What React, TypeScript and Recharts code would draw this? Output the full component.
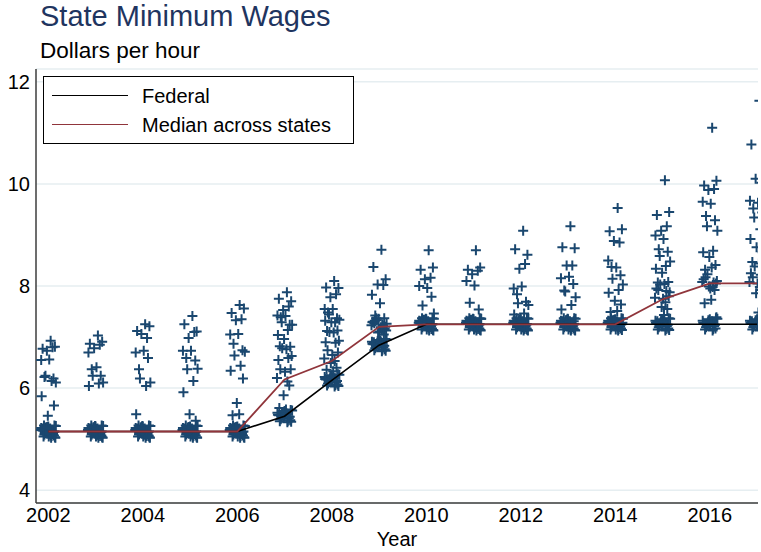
import { CartesianGrid, Scatter, ScatterChart, XAxis, YAxis } from 'recharts';

const years = [2002, 2003, 2004, 2005, 2006, 2007, 2008, 2009, 2010, 2011, 2012, 2013, 2014, 2015, 2016, 2017];

const federal = [5.15, 5.15, 5.15, 5.15, 5.15, 5.45, 6.15, 6.84, 7.25, 7.25, 7.25, 7.25, 7.25, 7.25, 7.25, 7.25];
const median = [5.15, 5.15, 5.15, 5.15, 5.15, 6.17, 6.53, 7.2, 7.25, 7.25, 7.25, 7.25, 7.25, 7.74, 8.05, 8.05];

// state minimum wages, one entry per state (50 + DC)
const w2002 = [
  6.9, 6.85, 6.75, 6.75, 6.7, 6.6, 6.55, 6.3, 6.15, 6.15, 6.15, 6.15, 5.8, 5.75, 5.35,
  5.15, 5.15, 5.15, 5.15, 5.15, 5.15, 5.15, 5.15, 5.15, 5.15, 5.15, 5.15,
  5.15, 5.15, 5.15, 5.15, 5.15, 5.15, 5.15, 5.15, 5.15, 5.15, 5.15, 5.15,
  5.15, 5.15, 5.15, 5.15, 5.15, 5.15, 5.15, 5.15, 5.15, 5.15, 5.15, 5.15,
];
const w2003 = [
  7.0, 6.95, 6.85, 6.8, 6.75, 6.75, 6.4, 6.35, 6.3, 6.15, 6.15, 6.1, 6.0,
  5.15, 5.15, 5.15, 5.15, 5.15, 5.15, 5.15, 5.15, 5.15, 5.15, 5.15, 5.15,
  5.15, 5.15, 5.15, 5.15, 5.15, 5.15, 5.15, 5.15, 5.15, 5.15, 5.15, 5.15,
  5.15, 5.15, 5.15, 5.15, 5.15, 5.15, 5.15, 5.15, 5.15, 5.15, 5.15, 5.15,
  5.15, 5.15,
];
const w2004 = [
  7.22, 7.2, 7.15, 7.08, 6.88, 6.75, 6.72, 6.7, 6.3, 6.15, 6.1, 6.05, 5.45,
  5.15, 5.15, 5.15, 5.15, 5.15, 5.15, 5.15, 5.15, 5.15, 5.15, 5.15, 5.15,
  5.15, 5.15, 5.15, 5.15, 5.15, 5.15, 5.15, 5.15, 5.15, 5.15, 5.15, 5.15,
  5.15, 5.15, 5.15, 5.15, 5.15, 5.15, 5.15, 5.15, 5.15, 5.15, 5.15, 5.15,
  5.15, 5.15,
];
const w2005 = [
  7.38, 7.33, 7.05, 7.0, 7.0, 6.78, 6.72, 6.65, 6.52, 6.42, 6.28, 6.15, 5.88, 5.45, 5.38,
  5.15, 5.15, 5.15, 5.15, 5.15, 5.15, 5.15, 5.15, 5.15, 5.15, 5.15, 5.15,
  5.15, 5.15, 5.15, 5.15, 5.15, 5.15, 5.15, 5.15, 5.15, 5.15, 5.15, 5.15,
  5.15, 5.15, 5.15, 5.15, 5.15, 5.15, 5.15, 5.15, 5.15, 5.15, 5.15, 5.15,
];
const w2006 = [
  7.6, 7.55, 7.5, 7.35, 7.25, 7.1, 7.05, 6.85, 6.8, 6.75, 6.55, 6.45, 6.3, 6.28, 5.6, 5.55, 5.45,
  5.15, 5.15, 5.15, 5.15, 5.15, 5.15, 5.15, 5.15, 5.15, 5.15, 5.15, 5.15,
  5.15, 5.15, 5.15, 5.15, 5.15, 5.15, 5.15, 5.15, 5.15, 5.15, 5.15, 5.15,
  5.15, 5.15, 5.15, 5.15, 5.15, 5.15, 5.15, 5.15, 5.15, 5.15,
];
const w2007 = [
  7.85, 7.83, 7.64, 7.55, 7.5, 7.47, 7.4, 7.35, 7.32, 7.28,
  7.2, 7.15, 7.0, 6.9, 6.85, 6.82, 6.8, 6.75, 6.7, 6.62,
  6.5, 6.42, 6.37, 6.25, 6.2, 6.17, 6.1, 5.77, 5.6, 5.55,
  5.45, 5.45, 5.45, 5.45, 5.45, 5.45, 5.45, 5.45, 5.45, 5.45, 5.45,
  5.45, 5.45, 5.45, 5.45, 5.45, 5.45, 5.45, 5.45, 5.45, 5.45,
];
const w2008 = [
  8.07, 8.05, 7.9, 7.8, 7.74, 7.6, 7.54, 7.48, 7.41, 7.38,
  7.35, 7.3, 7.28, 7.22, 7.18, 7.15, 7.1, 7.05, 7.02, 6.92,
  6.85, 6.75, 6.7, 6.62, 6.6, 6.55, 6.45, 6.4, 6.35, 6.3,
  6.15, 6.15, 6.15, 6.15, 6.15, 6.15, 6.15, 6.15, 6.15, 6.15, 6.15,
  6.15, 6.15, 6.15, 6.15, 6.15, 6.15, 6.15, 6.15, 6.15, 6.15,
];
const w2009 = [
  8.68, 8.45, 8.07, 8.05, 7.92, 7.88, 7.65, 7.48, 7.35, 7.3, 7.28,
  7.25, 7.25, 7.25, 7.25, 7.25, 7.25, 7.25, 7.25, 7.25, 7.25,
  7.21, 7.2, 7.2, 7.2, 7.2, 7.1, 7.0, 6.95,
  6.84, 6.84, 6.84, 6.84, 6.84, 6.84, 6.84, 6.84, 6.84, 6.84, 6.84,
  6.84, 6.84, 6.84, 6.84, 6.84, 6.84, 6.84, 6.84, 6.84, 6.84, 6.84,
];
const w2010 = [
  8.67, 8.4, 8.3, 8.15, 8.06, 8.05, 7.95, 7.9, 7.55, 7.5,
  7.25, 7.25, 7.25, 7.25, 7.25, 7.25, 7.25, 7.25, 7.25, 7.25, 7.25,
  7.25, 7.25, 7.25, 7.25, 7.25, 7.25, 7.25, 7.25, 7.25, 7.25, 7.25,
  7.25, 7.25, 7.25, 7.25, 7.25, 7.25, 7.25, 7.25, 7.25, 7.25, 7.25,
  7.25, 7.25, 7.25, 7.25, 7.25, 7.25, 7.25, 7.25,
];
const w2011 = [
  8.67, 8.4, 8.3, 8.25, 8.2, 8.15, 8.0, 7.65, 7.6, 7.4,
  7.25, 7.25, 7.25, 7.25, 7.25, 7.25, 7.25, 7.25, 7.25, 7.25, 7.25,
  7.25, 7.25, 7.25, 7.25, 7.25, 7.25, 7.25, 7.25, 7.25, 7.25, 7.25,
  7.25, 7.25, 7.25, 7.25, 7.25, 7.25, 7.25, 7.25, 7.25, 7.25, 7.25,
  7.25, 7.25, 7.25, 7.25, 7.25, 7.25, 7.25, 7.25,
];
const w2012 = [
  9.05, 8.8, 8.55, 8.36, 8.33, 8.0, 7.98, 7.8, 7.77, 7.67, 7.57, 7.47, 7.4,
  7.25, 7.25, 7.25, 7.25, 7.25, 7.25, 7.25, 7.25, 7.25, 7.25, 7.25,
  7.25, 7.25, 7.25, 7.25, 7.25, 7.25, 7.25, 7.25, 7.25, 7.25, 7.25,
  7.25, 7.25, 7.25, 7.25, 7.25, 7.25, 7.25, 7.25, 7.25, 7.25, 7.25,
  7.25, 7.25, 7.25, 7.25, 7.25,
];
const w2013 = [
  9.14, 8.84, 8.68, 8.42, 8.3, 8.2, 8.17, 8.15, 7.84, 7.82, 7.8, 7.64, 7.5, 7.4,
  7.25, 7.25, 7.25, 7.25, 7.25, 7.25, 7.25, 7.25, 7.25, 7.25, 7.25,
  7.25, 7.25, 7.25, 7.25, 7.25, 7.25, 7.25, 7.25, 7.25, 7.25, 7.25,
  7.25, 7.25, 7.25, 7.25, 7.25, 7.25, 7.25, 7.25, 7.25, 7.25, 7.25,
  7.25, 7.25, 7.25, 7.25,
];
const w2014 = [
  9.5, 9.15, 9.05, 8.9, 8.75, 8.55, 8.35, 8.32, 8.3, 8.07, 8.05, 7.93, 7.83, 7.73, 7.6, 7.57, 7.47, 7.4,
  7.25, 7.25, 7.25, 7.25, 7.25, 7.25, 7.25, 7.25, 7.25, 7.25, 7.25,
  7.25, 7.25, 7.25, 7.25, 7.25, 7.25, 7.25, 7.25, 7.25, 7.25, 7.25,
  7.25, 7.25, 7.25, 7.25, 7.25, 7.25, 7.25, 7.25, 7.25, 7.25, 7.25,
];
const w2015 = [
  10.04, 9.47, 9.39, 9.1, 9.07, 9.04, 8.91, 8.78, 8.65, 8.52,
  8.5, 8.4, 8.3, 8.17, 8.15, 8.1, 8.05, 8.0, 7.95, 7.93,
  7.9, 7.85, 7.8, 7.8, 7.75, 7.74, 7.6, 7.5, 7.45,
  7.25, 7.25, 7.25, 7.25, 7.25, 7.25, 7.25, 7.25, 7.25, 7.25, 7.25,
  7.25, 7.25, 7.25, 7.25, 7.25, 7.25, 7.25, 7.25, 7.25, 7.25, 7.25,
];
const w2016 = [
  11.07, 10.05, 10.0, 9.9, 9.8, 9.7, 9.6, 9.4, 9.3, 9.12,
  9.08, 8.7, 8.62, 8.5, 8.46, 8.42, 8.3, 8.22, 8.15, 8.1,
  8.08, 8.05, 8.05, 8.05, 8.05, 8.05, 7.97, 7.9, 7.75, 7.6, 7.5,
  7.25, 7.25, 7.25, 7.25, 7.25, 7.25, 7.25, 7.25, 7.25, 7.25,
  7.25, 7.25, 7.25, 7.25, 7.25, 7.25, 7.25, 7.25, 7.25, 7.25,
];
const w2017 = [
  11.6, 10.85, 10.15, 10.12, 9.92, 9.72, 9.62, 9.55, 9.45, 9.35,
  9.25, 9.12, 8.88, 8.75, 8.65, 8.5, 8.45, 8.35, 8.3, 8.25,
  8.2, 8.15, 8.1, 8.05, 8.05, 8.05, 7.97, 7.77, 7.5,
  7.25, 7.25, 7.25, 7.25, 7.25, 7.25, 7.25, 7.25, 7.25, 7.25, 7.25,
  7.25, 7.25, 7.25, 7.25, 7.25, 7.25, 7.25, 7.25, 7.25, 7.25, 7.25,
];

const stateWages = [w2002, w2003, w2004, w2005, w2006, w2007, w2008, w2009, w2010, w2011, w2012, w2013, w2014, w2015, w2016, w2017];

// jitter offsets (years, dollars) so overlapping states stay visible
const jitterX = [
  0.05, -0.12, 0.14, -0.03, 0.09, -0.15, 0.02, 0.11, -0.08, 0.16, -0.06, 0.07, -0.14, 0.12, -0.01, 0.04, -0.1,
  0.15, -0.05, 0.08, -0.13, 0.01, 0.13, -0.09, 0.06, -0.16, 0.1, -0.02, 0.03, -0.11, 0.14, -0.07, 0.0, 0.12,
  -0.04, 0.09, -0.15, 0.06, -0.12, 0.16, -0.08, 0.02, 0.11, -0.03, 0.07, -0.14, 0.13, -0.06, 0.04, -0.1, 0.08,
];
const jitterY = [
  0.03, -0.08, 0.06, -0.02, 0.1, -0.05, 0.01, -0.11, 0.07, -0.04, 0.09, -0.01, 0.04, -0.09, 0.11, -0.06, 0.02,
  -0.12, 0.08, -0.03, 0.05, -0.1, 0.0, 0.12, -0.07, 0.03, -0.05, 0.09, -0.02, 0.06, -0.11, 0.01, 0.1, -0.08,
  0.04, -0.04, 0.07, -0.12, 0.02, 0.11, -0.06, 0.05, -0.01, 0.08, -0.09, 0.03, 0.12, -0.03, 0.06, -0.1, 0.0,
];

const xTicks = [2002, 2004, 2006, 2008, 2010, 2012, 2014, 2016];
const yTicks = [4, 6, 8, 10, 12];

const NAVY = '#1a476f';
const MAROON = '#90353b';
const FONT = '"Liberation Sans", Arial, sans-serif';

const statePoints = years.flatMap((year, yi) =>
  stateWages[yi].map((w, i) => ({ x: year + jitterX[i], y: w + jitterY[i] })),
);
const federalLine = years.map((year, i) => ({ x: year, y: federal[i] }));
const medianLine = years.map((year, i) => ({ x: year, y: median[i] }));

const PlusMark = (props: any) => {
  const { cx, cy } = props;
  if (cx == null || cy == null) return <g />;
  return <path d={`M${cx - 5},${cy}H${cx + 5}M${cx},${cy - 5}V${cy + 5}`} stroke={NAVY} strokeWidth={2} fill="none" />;
};

const NoMark = () => <g />;

const LegendBox = () => (
  <div
    style={{
      position: 'absolute',
      left: 43,
      top: 76,
      width: 311,
      height: 68,
      boxSizing: 'border-box',
      border: '1px solid #000',
      background: '#fff',
      fontFamily: FONT,
      fontSize: 20,
      color: '#000',
      paddingTop: 4,
    }}
  >
    {[
      { label: 'Federal', color: '#000' },
      { label: 'Median across states', color: MAROON },
    ].map((item) => (
      <div key={item.label} style={{ display: 'flex', alignItems: 'center', height: 29 }}>
        <div style={{ marginLeft: 8, width: 76, height: 0, borderTop: `1.6px solid ${item.color}` }} />
        <span style={{ marginLeft: 14, lineHeight: 1 }}>{item.label}</span>
      </div>
    ))}
  </div>
);

const App = () => (
  <div style={{ position: 'absolute', left: 0, top: 0, width: 761, height: 552, background: '#fff', fontFamily: FONT }}>
    <div style={{ position: 'absolute', left: 40, top: 2, fontSize: 29, lineHeight: 1, color: '#1f3560', whiteSpace: 'nowrap' }}>
      State Minimum Wages
    </div>
    <div style={{ position: 'absolute', left: 40, top: 40, fontSize: 22.5, lineHeight: 1, color: '#000', whiteSpace: 'nowrap' }}>
      Dollars per hour
    </div>
    <div style={{ position: 'absolute', left: 0, top: 0 }}>
      <ScatterChart width={761} height={552} margin={{ top: 69, right: 3, left: 0, bottom: 0 }}>
        <CartesianGrid vertical={false} stroke="#e6eef1" strokeWidth={1.5} />
        <XAxis
          type="number"
          dataKey="x"
          domain={[2001.74, 2017.02]}
          allowDataOverflow
          ticks={xTicks}
          height={49}
          tickLine={false}
          tickSize={0}
          tickMargin={5}
          stroke="#3c3c3c"
          strokeWidth={1.5}
          tick={{ fill: '#000', fontSize: 20, fontFamily: FONT }}
          label={{ value: 'Year', position: 'insideBottom', offset: 6, fill: '#000', fontSize: 20, fontFamily: FONT }}
        />
        <YAxis
          type="number"
          dataKey="y"
          domain={[3.75, 12.25]}
          allowDataOverflow
          ticks={yTicks}
          width={36}
          tickLine={false}
          tickSize={0}
          tickMargin={6}
          stroke="#3c3c3c"
          strokeWidth={1.5}
          tick={{ fill: '#000', fontSize: 20, fontFamily: FONT }}
        />
        <Scatter data={statePoints} shape={PlusMark} isAnimationActive={false} />
        <Scatter data={federalLine} line={{ stroke: '#000', strokeWidth: 1.6 }} shape={NoMark} isAnimationActive={false} />
        <Scatter data={medianLine} line={{ stroke: MAROON, strokeWidth: 1.8 }} shape={NoMark} isAnimationActive={false} />
      </ScatterChart>
    </div>
    <LegendBox />
  </div>
);

export default App;
